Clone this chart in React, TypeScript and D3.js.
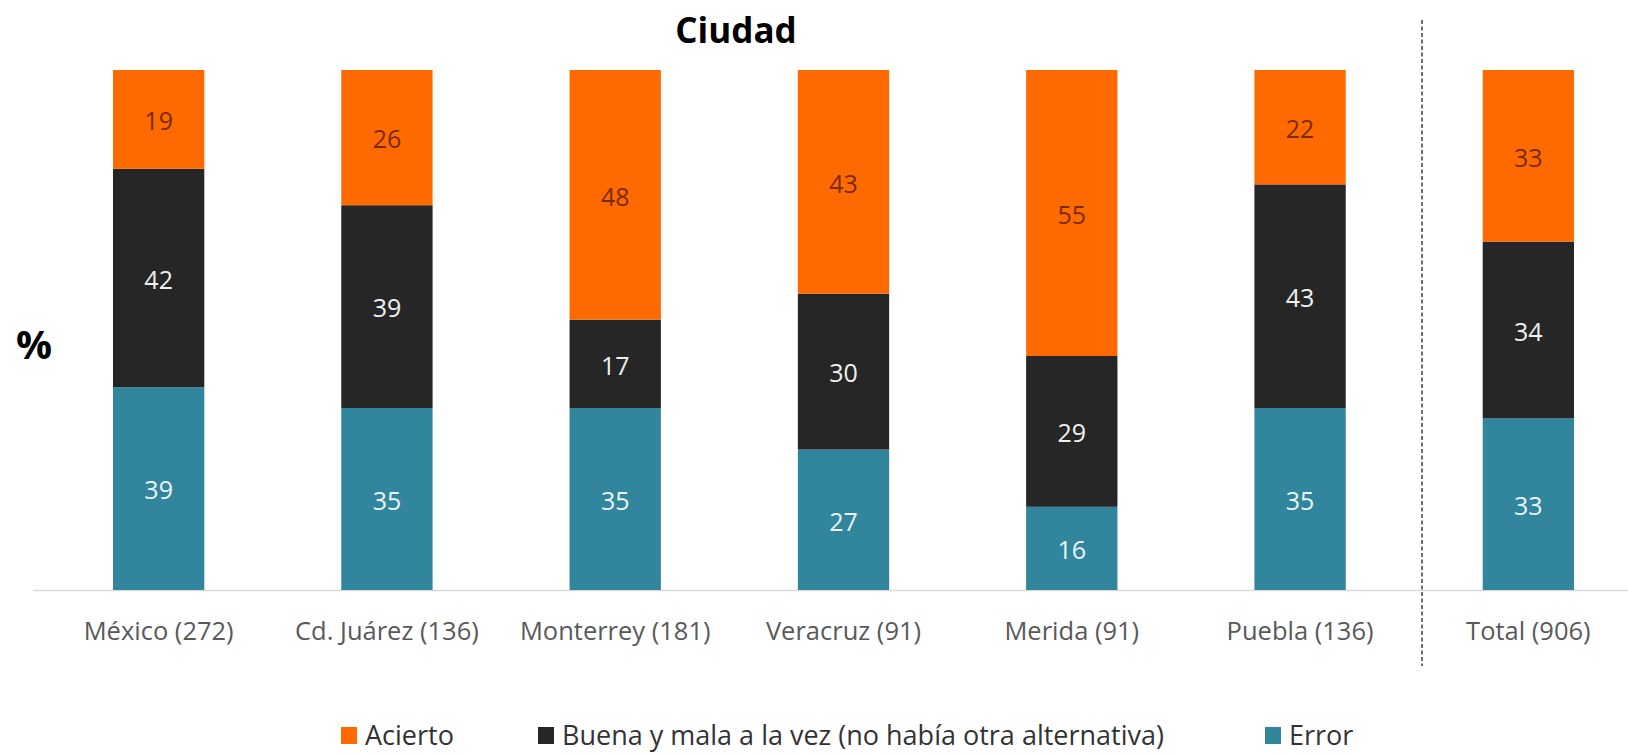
import React from "react";
import * as d3 from "d3";

const categories = ["México (272)", "Cd. Juárez (136)", "Monterrey (181)", "Veracruz (91)", "Merida (91)", "Puebla (136)", "Total (906)"];
const errorValues = [39, 35, 35, 27, 16, 35, 33];
const buenaValues = [42, 39, 17, 30, 29, 43, 34];
const aciertoValues = [19, 26, 48, 43, 55, 22, 33];
const seriesNames = ["Error", "Buena y mala a la vez (no había otra alternativa)", "Acierto"];
const legendOrder = ["Acierto", "Buena y mala a la vez (no había otra alternativa)", "Error"];
const title = "Ciudad";
const yLabel = "%";

const colors: Record<string, string> = {
  "Acierto": "#FF6A00",
  "Buena y mala a la vez (no había otra alternativa)": "#262626",
  "Error": "#31859C",
};
const labelColors: Record<string, string> = {
  "Acierto": "#7A2A00",
  "Buena y mala a la vez (no había otra alternativa)": "#F0F0F0",
  "Error": "#EAF4F6",
};

const W = 1628;
const H = 754;
const FONT = "'Open Sans', 'Noto Sans', sans-serif";

export default function App() {
  const rows = categories.map((c, i) => ({
    cat: c,
    "Error": errorValues[i],
    "Buena y mala a la vez (no había otra alternativa)": buenaValues[i],
    "Acierto": aciertoValues[i],
  }));
  const stack = d3.stack<any>().keys(seriesNames)(rows);

  const x = d3.scaleBand<string>().domain(categories).range([44.5, 1642.5]).paddingInner(0.6).paddingOuter(0.3);
  const y = d3.scaleLinear().domain([0, 100]).range([590, 70]);

  const legendX = [341, 538, 1265];

  return (
    <svg width={W} height={H} style={{ position: "absolute", left: 0, top: 0, background: "#fff" }} fontFamily={FONT}>
      <rect x={0} y={0} width={W} height={H} fill="#fff" />
      <text x={736} y={43} textAnchor="middle" fontSize={35} fontWeight="bold" fill="#000">{title}</text>
      <text x={34} y={359} textAnchor="middle" fontSize={40} fontWeight="bold" fill="#000">{yLabel}</text>
      <line x1={33} x2={W} y1={y(0) + 0.5} y2={y(0) + 0.5} stroke="#DADADA" strokeWidth={1.5} />
      {stack.map((s) => (
        <g key={s.key}>
          {s.map((d, i) => {
            const cat = categories[i];
            const x0 = x(cat) as number;
            const yTop = y(d[1]);
            const yBot = y(d[0]);
            return (
              <g key={cat}>
                <rect x={x0} y={yTop} width={x.bandwidth()} height={yBot - yTop} fill={colors[s.key]} />
                <text
                  x={x0 + x.bandwidth() / 2}
                  y={(yTop + yBot) / 2 + 2}
                  dy="0.35em"
                  textAnchor="middle"
                  fontSize={25}
                  fill={labelColors[s.key]}
                >
                  {d[1] - d[0]}
                </text>
              </g>
            );
          })}
        </g>
      ))}
      {categories.map((c) => (
        <text key={c} x={(x(c) as number) + x.bandwidth() / 2} y={640} textAnchor="middle" fontSize={25.5} fill="#595959">
          {c}
        </text>
      ))}
      <line x1={1422} x2={1422} y1={20} y2={666} stroke="#404040" strokeWidth={1.5} strokeDasharray="4,2.5" />
      {legendOrder.map((k, i) => (
        <g key={k}>
          <rect x={legendX[i]} y={727} width={16} height={17} fill={colors[k]} />
          <text x={legendX[i] + 24} y={745} fontSize={27} fill="#333333">{k}</text>
        </g>
      ))}
    </svg>
  );
}
